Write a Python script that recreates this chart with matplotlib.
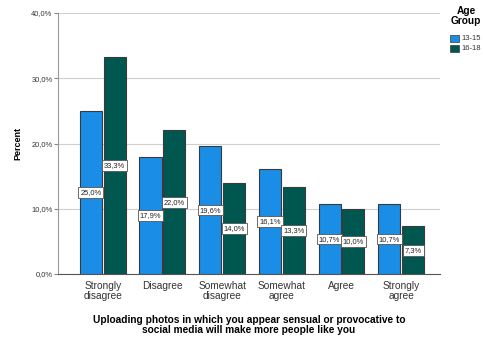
import matplotlib
matplotlib.use("Agg")
import matplotlib.pyplot as plt
import numpy as np
from matplotlib.patches import Rectangle

categories = ["Strongly\ndisagree", "Disagree", "Somewhat\ndisagree",
              "Somewhat\nagree", "Agree", "Strongly\nagree"]
groups = ["13-15", "16-18"]
pct_13_15 = [25.0, 17.9, 19.6, 16.1, 10.7, 10.7]
pct_16_18 = [33.3, 22.0, 14.0, 13.3, 10.0, 7.3]
yticks = [0, 10, 20, 30, 40]
colors = ["#1a8de6", "#00574f"]

plt.rcParams["font.family"] = ["Liberation Sans", "DejaVu Sans"]

fig = plt.figure(figsize=(4.83, 3.43), dpi=100)
ax = fig.add_axes([58 / 483, 1 - 274 / 343, 382 / 483, 261 / 343])

x = np.arange(len(categories))
w = 0.37
off = 0.2
for vals, dx, c in [(pct_13_15, -off, colors[0]), (pct_16_18, off, colors[1])]:
    bars = ax.bar(x + dx, vals, width=w, color=c, edgecolor="#3a3a3a",
                  linewidth=0.8, zorder=3)
    for b, v in zip(bars, vals):
        ax.text(b.get_x() + b.get_width() / 2, v / 2,
                f"{v:.1f}%".replace(".", ","), ha="center", va="center",
                fontsize=5.4, color="#222222", zorder=5,
                bbox=dict(boxstyle="square,pad=0.25", fc="white",
                          ec="#555555", lw=0.6))

ax.set_xlim(-0.75, 5.65)
ax.set_ylim(0, 40)
ax.set_yticks(yticks)
ax.set_yticklabels([f"{t:.1f}%".replace(".", ",") for t in yticks],
                   fontsize=5.4, color="#333333")
ax.yaxis.grid(True, color="#cfcfcf", linewidth=0.8, zorder=0)
ax.set_axisbelow(True)
ax.set_xticks(x)
ax.set_xticklabels(categories, fontsize=7.3, color="#333333", linespacing=1.05)
ax.tick_params(axis="x", length=0, pad=5)
ax.tick_params(axis="y", length=3, color="#888888", width=0.8, pad=1)
for s in ["top", "right"]:
    ax.spines[s].set_visible(False)
ax.spines["left"].set_color("#999999")
ax.spines["bottom"].set_color("#555555")

ax.set_ylabel("Percent", fontsize=6.5, fontweight="bold", labelpad=6)
ax.set_xlabel("Uploading photos in which you appear sensual or provocative to\n"
              "social media will make more people like you",
              fontsize=7.3, fontweight="bold", linespacing=1.0, labelpad=10)

# Legend drawn in figure coordinates
fig.text(466 / 483, 1 - 16 / 343, "Age\nGroup", ha="center", va="center",
         fontsize=7.3, fontweight="bold", linespacing=0.95)
for i, (g, c) in enumerate(zip(groups, colors)):
    y0 = 35 + i * 10
    fig.patches.append(Rectangle((450 / 483, 1 - (y0 + 7) / 343), 9 / 483, 7 / 343,
                                 transform=fig.transFigure, fc=c,
                                 ec="#3a3a3a", lw=0.5))
    fig.text(461 / 483, 1 - (y0 + 3.5) / 343, g, ha="left", va="center",
             fontsize=5.5, color="#333333")

fig.savefig("out.png", dpi=100)
